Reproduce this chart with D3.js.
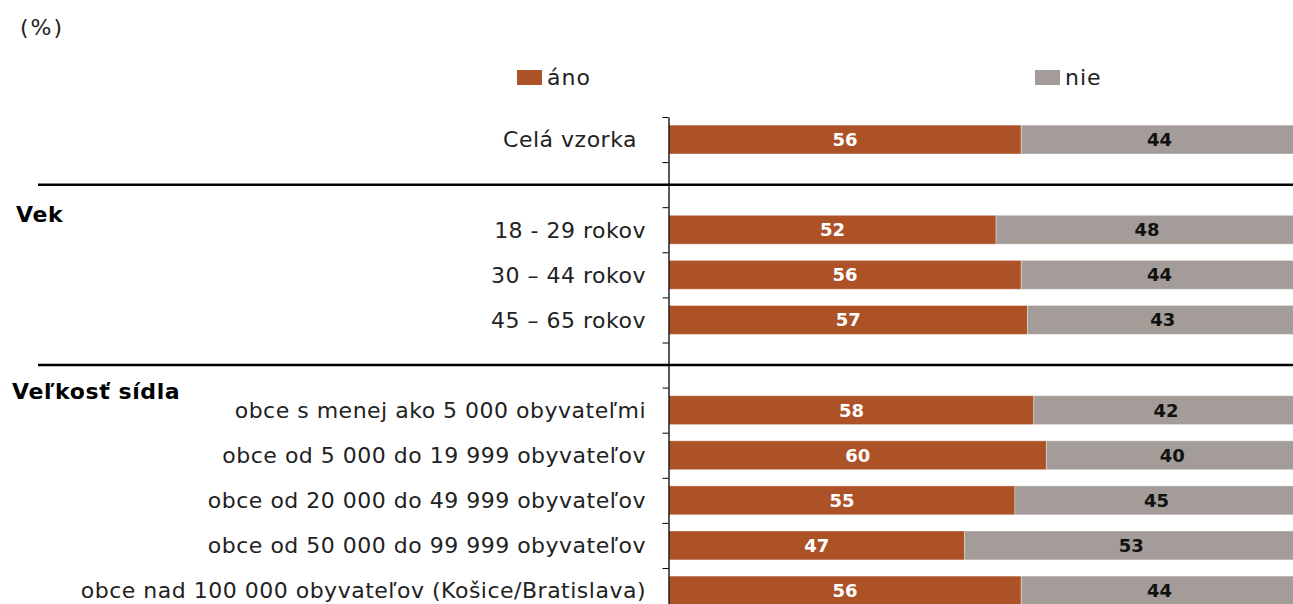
<!DOCTYPE html>
<html>
<head>
<meta charset="utf-8">
<script src="https://cdn.jsdelivr.net/npm/d3@7"></script>
<style>
  body { margin: 0; background: #fff; }
  svg { display: block; }
  text { font-family: "DejaVu Sans", sans-serif; fill: #222; }
</style>
</head>
<body>
<div id="chart"></div>
<script>
"use strict"

// rows of the chart, "" marks an empty spacer row
const rows = [
  "Celá vzorka",
  "",
  "18 - 29 rokov",
  "30 – 44 rokov",
  "45 – 65 rokov",
  "",
  "obce s menej ako 5 000 obyvateľmi",
  "obce od 5 000 do 19 999 obyvateľov",
  "obce od 20 000 do 49 999 obyvateľov",
  "obce od 50 000 do 99 999 obyvateľov",
  "obce nad 100 000 obyvateľov (Košice/Bratislava)"
]
const ano = [56, null, 52, 56, 57, null, 58, 60, 55, 47, 56]
const nie = [44, null, 48, 44, 43, null, 42, 40, 45, 53, 44]

const groupNames = ["Vek", "Veľkosť sídla"]
const groupRows = [2, 6]

const seriesNames = ["áno", "nie"]
const colors = ["#ad5227", "#a39c98"]
const labelColors = ["#ffffff", "#111111"]

const width = 1293
const height = 604

const svg = d3.select("#chart").append("svg")
  .attr("width", width)
  .attr("height", height)

const y = d3.scaleBand()
  .domain(d3.range(rows.length))
  .range([117, 117 + rows.length * 45.1])
  .paddingInner(0.36)
  .paddingOuter(0.18)

const yEdge = d3.scaleLinear()
  .domain([0, rows.length])
  .range([117, 117 + rows.length * 45.1])

const x = d3.scaleLinear()
  .domain([0, 100])
  .range([669, 1298])

// "(%)"
svg.append("text")
  .attr("x", 20)
  .attr("y", 35)
  .attr("font-size", "22px")
  .attr("letter-spacing", "2px")
  .text("(%)")

// legend
const legendX = [517, 1035]
seriesNames.forEach((name, i) => {
  svg.append("rect")
    .attr("x", legendX[i])
    .attr("y", 70)
    .attr("width", 25)
    .attr("height", 15)
    .attr("fill", colors[i])
  svg.append("text")
    .attr("x", legendX[i] + 30)
    .attr("y", 85)
    .attr("font-size", "22px")
    .attr("letter-spacing", "1px")
    .text(name)
})

// stacked bars
const stackData = rows.map((r, i) => ({ i, ano: ano[i], nie: nie[i] }))
  .filter((d) => d.ano != null)
const stacked = d3.stack().keys(["ano", "nie"])(stackData)

const layers = svg.append("g")
  .selectAll("g")
  .data(stacked)
  .join("g")
    .attr("fill", (d, k) => colors[k])

layers.selectAll("rect")
  .data((d) => d)
  .join("rect")
    .attr("x", (d) => x(d[0]))
    .attr("y", (d) => y(d.data.i))
    .attr("width", (d) => x(d[1]) - x(d[0]))
    .attr("height", y.bandwidth())
    .attr("stroke", "#ffffff")
    .attr("stroke-opacity", 0.35)
    .attr("stroke-width", 1)

layers.each(function(layer, k) {
  d3.select(this).selectAll("text")
    .data(layer)
    .join("text")
      .attr("x", (d) => (x(d[0]) + x(d[1])) / 2)
      .attr("y", (d) => y(d.data.i) + y.bandwidth() / 2)
      .attr("dy", "0.36em")
      .attr("text-anchor", "middle")
      .attr("font-family", "'DejaVu Sans Condensed', 'DejaVu Sans', sans-serif")
      .attr("font-weight", "bold")
      .attr("font-size", "18px")
      .style("fill", labelColors[k])
      .text((d) => d[1] - d[0])
})

// vertical axis with ticks between categories
svg.append("g")
  .attr("transform", "translate(668.5,0)")
  .call(d3.axisLeft(yEdge).ticks(rows.length).tickSize(6).tickSizeOuter(0).tickFormat(""))
  .call((g) => g.selectAll("line").attr("stroke", "#000"))
  .call((g) => g.select(".domain").attr("stroke", "#000").attr("stroke-width", 1.3))

// category labels
svg.append("g")
  .selectAll("text")
  .data(rows.map((r, i) => ({ r, i })).filter((d) => d.r !== ""))
  .join("text")
    .attr("x", (d) => d.i == 0 ? 637 : 646)
    .attr("y", (d) => y(d.i) + y.bandwidth() / 2)
    .attr("dy", "0.36em")
    .attr("text-anchor", "end")
    .attr("font-size", "22px")
    .attr("letter-spacing", "0.5px")
    .text((d) => d.r)

// separators through the spacer rows
const gapRows = rows.map((r, i) => i).filter((i) => rows[i] === "")
svg.append("g")
  .selectAll("line")
  .data(gapRows)
  .join("line")
    .attr("x1", 38)
    .attr("x2", width)
    .attr("y1", (i) => y(i) + y.bandwidth() / 2)
    .attr("y2", (i) => y(i) + y.bandwidth() / 2)
    .attr("stroke", "#000")
    .attr("stroke-width", 2.5)

// group headings
svg.append("g")
  .selectAll("text")
  .data(groupNames)
  .join("text")
    .attr("x", (d, i) => i == 0 ? 16 : 12)
    .attr("y", (d, i) => yEdge(groupRows[i]) + (i == 0 ? 15 : 11))
    .attr("font-size", "22px")
    .attr("font-weight", "bold")
    .attr("letter-spacing", "0.6px")
    .style("fill", "#000")
    .text((d) => d)
</script>
</body>
</html>
